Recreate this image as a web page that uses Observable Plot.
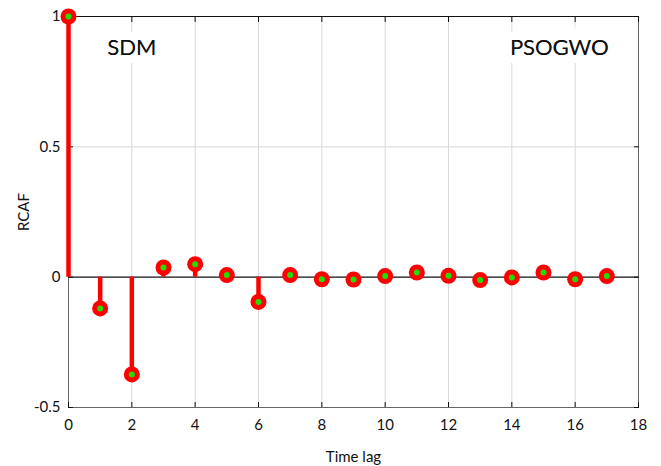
<!DOCTYPE html>
<html>
<head>
<meta charset="utf-8">
<script src="https://cdn.jsdelivr.net/npm/d3@7"></script>
<script src="https://cdn.jsdelivr.net/npm/@observablehq/plot@0.6"></script>
<style>
  html, body { margin: 0; padding: 0; background: #fff; }
  #chart svg { display: block; font-family: "Lato", "Open Sans", sans-serif; }
</style>
</head>
<body>
<div id="chart"></div>
<script>
const lags = [0,1,2,3,4,5,6,7,8,9,10,11,12,13,14,15,16,17];
const rcaf = [1,-0.12,-0.373,0.037,0.05,0.008,-0.095,0.008,-0.008,-0.009,0.004,0.018,0.005,-0.011,-0.001,0.018,-0.008,0.004];
const xTicks = [0,2,4,6,8,10,12,14,16,18];
const yTicks = [-0.5,0,0.5,1];
const labelNames = ["SDM","PSOGWO"];
const labelX = [2,15.5];
const labelY = [0.88,0.88];

const data = lags.map((l,i) => ({lag: l, v: rcaf[i]}));
const labels = labelNames.map((n,i) => ({name: n, x: labelX[i], y: labelY[i]}));

const chart = Plot.plot({
  width: 661,
  height: 466,
  marginLeft: 68,
  marginRight: 23,
  marginTop: 16,
  marginBottom: 59,
  style: {fontSize: "14px", fontFamily: "Lato, 'Open Sans', sans-serif", color: "#111"},
  x: {domain: [0,18], ticks: xTicks},
  y: {domain: [-0.5,1], ticks: yTicks},
  marks: [
    Plot.gridX(xTicks.filter(d => d > 0 && d < 18), {stroke: "#d8d8d8", strokeOpacity: 1}),
    Plot.gridY([0.5], {stroke: "#d8d8d8", strokeOpacity: 1}),
    Plot.text(labels, {x: "x", y: "y", text: "name", fontSize: 22, fill: "#111", stroke: "white", strokeWidth: 16, strokeLinejoin: "miter"}),
    Plot.frame({stroke: "#666"}),
    Plot.ruleY([1], {stroke: "#111"}),
    Plot.ruleY([0], {stroke: "#111", strokeWidth: 1.2}),
    Plot.axisX({anchor: "bottom", ticks: xTicks, tickSize: -5, tickPadding: 17, label: "Time lag", labelAnchor: "center", labelArrow: "none", labelOffset: 54, fontSize: 15, tickFormat: d => String(d)}),
    Plot.axisX({anchor: "top", ticks: xTicks, tickSize: -5, tickFormat: () => "", label: null}),
    Plot.axisY({anchor: "left", ticks: yTicks, tickSize: -5, tickPadding: 13, label: "RCAF", labelAnchor: "center", labelOffset: 50, labelArrow: "none", fontSize: 15, tickFormat: d => String(d)}),
    Plot.axisY({anchor: "right", ticks: yTicks, tickSize: -5, tickFormat: () => "", label: null}),
    Plot.ruleX(data, {x: "lag", y1: 0, y2: "v", stroke: "#ff0000", strokeWidth: 4.5}),
    Plot.dot(data, {x: "lag", y: "v", r: 8, fill: "#ff0000", stroke: "none"}),
    Plot.dot(data, {x: "lag", y: "v", r: 3, fill: "#22dd00", stroke: "none"}),
    Plot.text(labels, {x: "x", y: "y", text: "name", fontSize: 22, fill: "#111", fontWeight: 300})
  ]
});
document.getElementById("chart").appendChild(chart);
</script>
</body>
</html>
